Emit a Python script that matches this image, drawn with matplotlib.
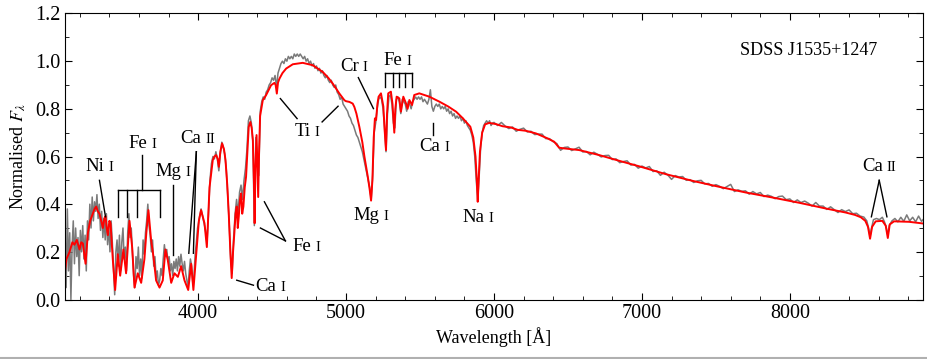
import numpy as np
import matplotlib
matplotlib.use("Agg")
import matplotlib.pyplot as plt
from matplotlib.ticker import MultipleLocator
from matplotlib.offsetbox import TextArea, HPacker, AnnotationBbox
from matplotlib.lines import Line2D

# model spectrum (red)
model_wave = [3100, 3110, 3131, 3150, 3164, 3180, 3198, 3210, 3221, 3239,
              3255, 3270, 3288, 3300, 3311, 3322, 3333, 3345, 3356, 3366,
              3374, 3382, 3390, 3400, 3408, 3423, 3439, 3457, 3473, 3495,
              3513, 3536, 3554, 3570, 3592, 3615, 3637, 3650, 3664, 3682,
              3698, 3716, 3739, 3761, 3779, 3795, 3818, 3840, 3863, 3885,
              3908, 3933, 3953, 3968, 3991, 4005, 4020, 4043, 4059, 4077,
              4099, 4110, 4122, 4132, 4140, 4150, 4162, 4175, 4185, 4197,
              4207, 4218, 4227, 4236, 4245, 4253, 4261, 4268, 4275, 4283,
              4291, 4298, 4306, 4315, 4324, 4333, 4342, 4353, 4362, 4370,
              4377, 4382, 4387, 4395, 4401, 4406, 4412, 4419, 4437, 4459,
              4493, 4516, 4524, 4532, 4540, 4550, 4570, 4595, 4640, 4707,
              4775, 4842, 4880, 4910, 4955, 4989, 5000, 5023, 5045, 5056,
              5070, 5090, 5110, 5124, 5147, 5160, 5169, 5178, 5187, 5195,
              5203, 5212, 5220, 5236, 5252, 5262, 5270, 5277, 5285, 5303,
              5314, 5320, 5326, 5333, 5342, 5360, 5371, 5387, 5405, 5416,
              5428, 5446, 5461, 5495, 5563, 5631, 5690, 5744, 5790, 5811,
              5840, 5860, 5875, 5884, 5890, 5896, 5905, 5920, 5940, 5968,
              6013, 6058, 6114, 6159, 6215, 6283, 6362, 6407, 6425, 6440,
              6474, 6576, 6711, 6846, 6992, 7161, 7341, 7521, 7702, 7882,
              8062, 8242, 8377, 8440, 8480, 8510, 8528, 8542, 8556, 8580,
              8625, 8648, 8662, 8675, 8704, 8806, 8900]
model_flux = [0.12, 0.17, 0.20, 0.24, 0.23, 0.25, 0.21, 0.24, 0.235, 0.15,
              0.28, 0.33, 0.36, 0.38, 0.39, 0.37, 0.36, 0.33, 0.30, 0.34,
              0.35, 0.30, 0.27, 0.33, 0.32, 0.17, 0.04, 0.19, 0.10, 0.21,
              0.11, 0.33, 0.22, 0.05, 0.11, 0.07, 0.17, 0.28, 0.375, 0.25,
              0.18, 0.08, 0.05, 0.08, 0.21, 0.165, 0.07, 0.11, 0.095, 0.14,
              0.08, 0.04, 0.15, 0.04, 0.22, 0.33, 0.375, 0.32, 0.22, 0.47,
              0.585, 0.60, 0.606, 0.59, 0.557, 0.62, 0.655, 0.63, 0.585, 0.48,
              0.36, 0.20, 0.09, 0.20, 0.28, 0.36, 0.39, 0.30, 0.35, 0.42,
              0.445, 0.36, 0.39, 0.47, 0.515, 0.62, 0.724, 0.745, 0.72, 0.67,
              0.50, 0.32, 0.55, 0.69, 0.55, 0.43, 0.62, 0.77, 0.836, 0.857,
              0.899, 0.909, 0.90, 0.864, 0.91, 0.927, 0.95, 0.969, 0.987, 0.993,
              0.983, 0.955, 0.93, 0.906, 0.864, 0.836, 0.832, 0.829, 0.822, 0.808,
              0.78, 0.724, 0.66, 0.60, 0.515, 0.46, 0.415, 0.50, 0.68, 0.76,
              0.753, 0.82, 0.851, 0.865, 0.81, 0.70, 0.627, 0.78, 0.865, 0.872,
              0.82, 0.76, 0.70, 0.80, 0.851, 0.844, 0.788, 0.851, 0.823, 0.80,
              0.837, 0.816, 0.858, 0.865, 0.851, 0.83, 0.81, 0.788, 0.76, 0.745,
              0.725, 0.68, 0.60, 0.50, 0.41, 0.50, 0.62, 0.70, 0.735, 0.741,
              0.736, 0.727, 0.722, 0.712, 0.708, 0.697, 0.676, 0.662, 0.648, 0.637,
              0.634, 0.627, 0.606, 0.582, 0.557, 0.526, 0.498, 0.473, 0.449, 0.428,
              0.406, 0.382, 0.365, 0.355, 0.345, 0.330, 0.305, 0.255, 0.305, 0.328,
              0.330, 0.310, 0.258, 0.315, 0.328, 0.326, 0.319]

# observed spectrum (grey), blue part sampled every 8 A
obs_wave_a = np.arange(3100, 4000, 8)
obs_flux_a = [0.30, 0.05, 0.38, 0.12, 0.28, 0.00, 0.22, 0.33, 0.15, 0.30,
              0.18, 0.26, 0.10, 0.29, 0.20, 0.31, 0.17, 0.27, 0.12, 0.33,
              0.25, 0.40, 0.30, 0.43, 0.33, 0.41, 0.37, 0.44, 0.34, 0.40,
              0.29, 0.37, 0.26, 0.34, 0.25, 0.36, 0.23, 0.31, 0.20, 0.33,
              0.24, 0.13, 0.02, 0.20, 0.25, 0.14, 0.27, 0.12, 0.24, 0.30,
              0.17, 0.22, 0.12, 0.28, 0.36, 0.26, 0.30, 0.20, 0.10, 0.05,
              0.18, 0.13, 0.22, 0.10, 0.17, 0.09, 0.25, 0.19, 0.28, 0.33,
              0.40, 0.31, 0.27, 0.20, 0.25, 0.14, 0.18, 0.09, 0.12, 0.06,
              0.08, 0.13, 0.10, 0.17, 0.23, 0.18, 0.21, 0.16, 0.18, 0.12,
              0.15, 0.10, 0.16, 0.13, 0.17, 0.12, 0.18, 0.14, 0.19, 0.15,
              0.12, 0.16, 0.11, 0.08, 0.05, 0.12, 0.17, 0.14, 0.07, 0.10,
              0.19, 0.24, 0.30]

# observed, middle part every 10 A
obs_wave_b = np.arange(4000, 6000, 10)
obs_flux_b = [0.31, 0.35, 0.38, 0.35, 0.32, 0.29, 0.24, 0.36, 0.50, 0.57,
              0.60, 0.59, 0.62, 0.59, 0.54, 0.61, 0.66, 0.64, 0.61, 0.55,
              0.44, 0.32, 0.17, 0.11, 0.26, 0.36, 0.42, 0.36, 0.45, 0.48,
              0.42, 0.50, 0.55, 0.63, 0.75, 0.77, 0.74, 0.66, 0.31, 0.68,
              0.58, 0.52, 0.79, 0.83, 0.85, 0.84, 0.87, 0.88, 0.90, 0.91,
              0.93, 0.92, 0.94, 0.89, 0.95, 0.97, 0.99, 1.00, 0.99, 1.01,
              1.00, 1.02, 1.01, 1.02, 1.01, 1.03, 1.02, 1.03, 1.02, 1.03,
              1.02, 1.01, 1.02, 1.00, 1.01, 0.99, 1.00, 0.98, 0.99, 0.97,
              0.98, 0.96, 0.97, 0.95, 0.96, 0.94, 0.93, 0.94, 0.92, 0.91,
              0.92, 0.90, 0.89, 0.90, 0.87, 0.86, 0.84, 0.85, 0.82, 0.81,
              0.80, 0.79, 0.77, 0.76, 0.74, 0.73, 0.71, 0.69, 0.68, 0.66,
              0.64, 0.62, 0.59, 0.56, 0.53, 0.50, 0.47, 0.42, 0.52, 0.70,
              0.74, 0.80, 0.84, 0.85, 0.84, 0.80, 0.72, 0.62, 0.78, 0.85,
              0.86, 0.82, 0.74, 0.72, 0.84, 0.85, 0.83, 0.78, 0.84, 0.83,
              0.82, 0.79, 0.83, 0.82, 0.80, 0.83, 0.84, 0.85, 0.84, 0.85,
              0.84, 0.85, 0.83, 0.84, 0.83, 0.82, 0.84, 0.88, 0.81, 0.79,
              0.81, 0.82, 0.81, 0.82, 0.80, 0.81, 0.80, 0.81, 0.79, 0.80,
              0.78, 0.79, 0.77, 0.78, 0.76, 0.77, 0.76, 0.77, 0.75, 0.76,
              0.74, 0.75, 0.73, 0.72, 0.71, 0.69, 0.66, 0.60, 0.50, 0.42,
              0.52, 0.64, 0.70, 0.73, 0.74, 0.75, 0.74, 0.75, 0.73, 0.74]

# observed, red part every 25 A
obs_wave_c = np.arange(6000, 8450, 25)
obs_flux_c = [0.743, 0.730, 0.743, 0.728, 0.717, 0.724, 0.706, 0.714, 0.719, 0.703,
              0.706, 0.692, 0.694, 0.694, 0.675, 0.675, 0.662, 0.654, 0.626, 0.638,
              0.640, 0.625, 0.632, 0.639, 0.619, 0.621, 0.607, 0.618, 0.609, 0.598,
              0.604, 0.605, 0.587, 0.590, 0.574, 0.579, 0.582, 0.564, 0.567, 0.551,
              0.560, 0.552, 0.558, 0.537, 0.540, 0.521, 0.534, 0.522, 0.504, 0.520,
              0.514, 0.516, 0.500, 0.503, 0.491, 0.498, 0.500, 0.485, 0.487, 0.475,
              0.482, 0.475, 0.465, 0.474, 0.483, 0.453, 0.460, 0.454, 0.456, 0.442,
              0.453, 0.443, 0.449, 0.432, 0.438, 0.433, 0.423, 0.432, 0.434, 0.419,
              0.422, 0.407, 0.418, 0.407, 0.413, 0.404, 0.392, 0.407, 0.392, 0.392,
              0.378, 0.389, 0.377, 0.365, 0.377, 0.369, 0.376, 0.360]

# observed, Ca II triplet region
obs_wave_d = [8450, 8475, 8500, 8520, 8532, 8542, 8552, 8565, 8585, 8605,
              8625, 8640, 8652, 8662, 8672, 8690, 8710, 8730, 8750, 8770,
              8790, 8810, 8830, 8850, 8870, 8890, 8900]
obs_flux_d = [0.362, 0.350, 0.346, 0.330, 0.300, 0.265, 0.300, 0.335, 0.340, 0.335,
              0.345, 0.325, 0.300, 0.270, 0.310, 0.330, 0.340, 0.326, 0.345, 0.328,
              0.355, 0.330, 0.345, 0.326, 0.350, 0.328, 0.335]

plt.rcParams['font.family'] = ['Liberation Serif', 'DejaVu Serif']
plt.rcParams['mathtext.fontset'] = 'stix'

fig = plt.figure(figsize=(9.27, 3.59), dpi=100)
ax = fig.add_axes([0.0701, 0.1657, 0.9256, 0.7967])

obs_wave = np.concatenate([obs_wave_a, obs_wave_b, obs_wave_c, obs_wave_d])
obs_flux = np.concatenate([obs_flux_a, obs_flux_b, obs_flux_c, obs_flux_d])
ax.plot(obs_wave, obs_flux, color='#7a7a7a', lw=1.1)
ax.plot(model_wave, model_flux, color='red', lw=1.4)

ax.set_xlim(3100, 8900)
ax.set_ylim(0, 1.2)
ax.xaxis.set_major_locator(MultipleLocator(1000))
ax.xaxis.set_minor_locator(MultipleLocator(200))
ax.yaxis.set_major_locator(MultipleLocator(0.2))
ax.yaxis.set_minor_locator(MultipleLocator(0.1))
ax.tick_params(which='both', direction='in', top=True, right=True, labelsize=14.5)
ax.tick_params(which='major', length=5)
ax.tick_params(which='minor', length=3)
ax.set_xlabel('Wavelength [Å]', fontsize=13, labelpad=3)
ax.set_ylabel(r'Normalised $F_\lambda$', fontsize=13, labelpad=5)


def ion(x, y, el, stage):
    a = TextArea(el, textprops=dict(fontsize=13.5))
    b = TextArea(stage, textprops=dict(fontsize=10.5))
    box = HPacker(children=[a, b], align='baseline', pad=0, sep=3)
    ab = AnnotationBbox(box, (x, y), xycoords='data', frameon=False,
                        box_alignment=(0.5, 0.5), pad=0)
    ax.add_artist(ab)


def seg(x0, y0, x1, y1):
    ax.plot([x0, x1], [y0, y1], color='black', lw=1.0)


# Ni I
ion(3333, 0.557, 'Ni', 'I')
seg(3333, 0.50, 3374, 0.347)
# Fe I bracket (blue)
ion(3622, 0.655, 'Fe', 'I')
seg(3622, 0.605, 3622, 0.459)
seg(3457, 0.459, 3739, 0.459)
for w in [3457, 3520, 3586, 3739]:
    seg(w, 0.459, w, 0.347)
# Mg I
ion(3829, 0.536, 'Mg', 'I')
seg(3829, 0.48, 3829, 0.186)
# Ca II H & K
ion(3998, 0.676, 'Ca', 'II')
seg(3988, 0.62, 3937, 0.194)
seg(3988, 0.62, 3968, 0.194)
# Ca I 4227
ion(4487, 0.056, 'Ca', 'I')
seg(4261, 0.081, 4374, 0.060)
# Fe I 4383/4404
ion(4730, 0.224, 'Fe', 'I')
seg(4590, 0.246, 4448, 0.41)
seg(4590, 0.246, 4421, 0.30)
# Ti I
ion(4734, 0.706, 'Ti', 'I')
seg(4669, 0.759, 4556, 0.843)
seg(4838, 0.745, 4946, 0.811)
# Mg I b
ion(5169, 0.354, 'Mg', 'I')
# Cr I
ion(5052, 0.976, 'Cr', 'I')
seg(5083, 0.931, 5185, 0.801)
# Fe I bracket (green)
ion(5345, 1.004, 'Fe', 'I')
seg(5263, 0.949, 5446, 0.949)
for w in [5263, 5320, 5360, 5399, 5446]:
    seg(w, 0.949, w, 0.893)
# Ca I 5589
ion(5597, 0.641, 'Ca', 'I')
seg(5590, 0.742, 5590, 0.690)
# Na I
ion(5889, 0.344, 'Na', 'I')
# Ca II triplet
ion(8604, 0.557, 'Ca', 'II')
seg(8604, 0.50, 8551, 0.347)
seg(8604, 0.50, 8656, 0.347)

ax.text(8126, 1.043, 'SDSS J1535+1247', fontsize=13, ha='center', va='center')

fig.add_artist(Line2D([0, 1], [0.003, 0.003], transform=fig.transFigure,
                      color='#b0b0b0', lw=1.5))

fig.savefig('out.png', dpi=100)
